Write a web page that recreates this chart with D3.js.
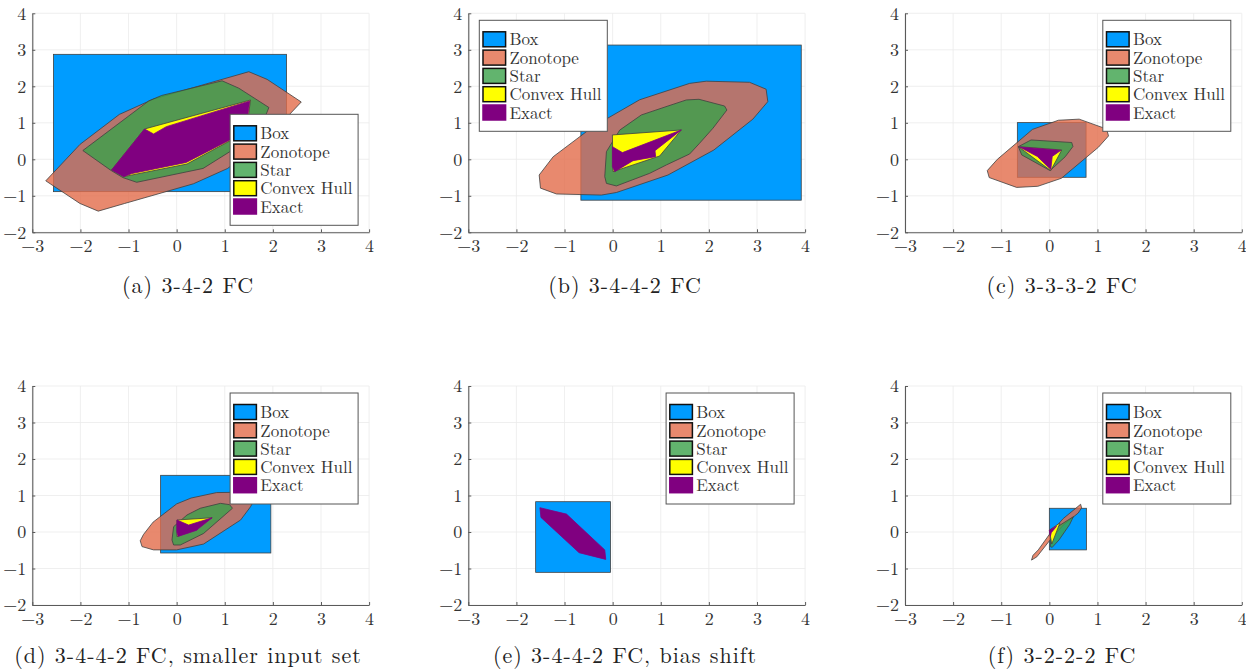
<!DOCTYPE html>
<html>
<head>
<meta charset="utf-8">
<script src="https://cdn.jsdelivr.net/npm/d3@7"></script>
<style>
body{margin:0;background:#fff}
svg{display:block}
</style>
</head>
<body>
<svg id="fig" width="1246" height="670"></svg>
<script>
// captions + legend entries
var captions = ["(a) 3-4-2 FC", "(b) 3-4-4-2 FC", "(c) 3-3-3-2 FC",
  "(d) 3-4-4-2 FC, smaller input set", "(e) 3-4-4-2 FC, bias shift", "(f) 3-2-2-2 FC"];
var setNames = ["Box", "Zonotope", "Star", "Convex Hull", "Exact"];
var xTicks = [-3, -2, -1, 0, 1, 2, 3, 4];
var yTicks = [-2, -1, 0, 1, 2, 3, 4];

// reachable sets, one entry per panel (a..f)
// box: [xmin, xmax, ymin, ymax]
var boxes = [
  [-2.56, 2.285, -0.886, 2.876],
  [-0.66, 3.92, -1.12, 3.13],
  [-0.665, 0.763, -0.493, 1.005],
  [-0.333, 1.958, -0.575, 1.553],
  [-1.60, -0.046, -1.105, 0.83],
  [0.0, 0.77, -0.49, 0.65]
];
var zonotopes = [
  [[-2.72,-0.59],[-2.01,-1.21],[-1.63,-1.42],[-1.08,-1.21],[0.35,-0.67],[1.06,-0.25],[1.875,0.57],
   [2.59,1.57],[1.88,2.19],[1.5,2.40],[0.944,2.19],[-0.48,1.65],[-1.19,1.23],[-2.007,0.41]],
  [[-1.527,-0.43],[-1.50,-0.79],[-1.167,-0.95],[-0.233,-0.98],[0.078,-0.91],[1.15,-0.43],[2.104,0.255],
   [2.914,1.10],[3.225,1.58],[3.19,1.92],[2.845,2.11],[1.946,2.14],[1.6,2.08],[0.56,1.63],[-0.406,0.895],[-1.236,0.07]],
  [[-1.29,-0.31],[-1.25,-0.50],[-0.68,-0.77],[-0.24,-0.74],[0.25,-0.52],[1.02,0.33],[1.23,0.64],
   [1.19,0.83],[0.62,1.10],[0.19,1.07],[-0.35,0.82],[-1.08,0.0]],
  [[-0.757,-0.24],[-0.72,-0.40],[-0.48,-0.49],[0.0,-0.49],[0.56,-0.33],[1.33,0.33],[1.535,0.69],
   [1.60,0.85],[1.56,1.0],[1.32,1.09],[0.83,1.08],[0.30,0.93],[0.0,0.77],[-0.49,0.27],[-0.69,-0.07]],
  [],
  [[-0.37,-0.77],[-0.34,-0.64],[-0.23,-0.49],[0.015,-0.04],[0.29,0.37],[0.55,0.65],[0.65,0.76],
   [0.67,0.66],[0.60,0.52],[0.29,0.19],[0.015,-0.22],[-0.26,-0.68]]
];
var stars = [
  [[-1.95,0.24],[-0.58,1.60],[-0.31,1.75],[0.945,2.15],[1.29,1.95],[1.917,1.42],[1.7,0.7],[0.55,-0.25],
   [-0.83,-0.63],[-1.12,-0.50],[-1.37,-0.30]],
  [[-0.129,0.21],[0.147,0.80],[0.597,1.215],[1.15,1.46],[1.531,1.626],[1.794,1.644],[2.326,1.46],[2.375,1.35],
   [2.084,0.85],[1.807,0.44],[1.60,0.146],[1.116,-0.155],[0.77,-0.384],[0.078,-0.73],[-0.129,-0.66],[-0.164,-0.475]],
  [[-0.644,0.347],[-0.574,0.12],[0.015,-0.31],[0.33,0.07],[0.49,0.35],[0.465,0.46],[-0.38,0.53]],
  [[-0.063,0.146],[-0.097,-0.22],[-0.063,-0.356],[0.076,-0.356],[0.56,-0.04],[1.16,0.65],[1.10,0.75],
   [0.91,0.785],[0.49,0.65],[0.215,0.466]],
  [],
  [[0.02,-0.40],[0.03,-0.1],[0.20,0.17],[0.50,0.42],[0.42,0.20],[0.20,-0.22],[0.06,-0.42]]
];
var hulls = [
  [[-1.35,-0.29],[-0.667,0.83],[1.535,1.625],[1.45,0.75],[0.215,-0.13],[-1.10,-0.475]],
  [[-0.005,0.667],[1.427,0.804],[0.977,0.09],[0.009,-0.338]],
  [[-0.643,0.346],[0.258,0.256],[0.029,-0.31]],
  [[0.007,0.329],[0.737,0.39],[0.007,-0.128]],
  [],
  [[0.0,0.05],[0.22,0.25],[0.05,-0.33]]
];
var exacts = [
  [[-1.35,-0.29],[-0.667,0.83],[-0.479,0.694],[-0.215,0.894],[1.52,1.6],[1.43,0.75],[0.2,-0.085],
   [-0.93,-0.39],[-1.10,-0.475]],
  [[-0.005,0.347],[0.203,0.183],[1.427,0.804],[0.88,0.237],[0.894,0.073],[0.424,-0.037],[0.044,-0.338],[-0.005,-0.2]],
  [[-0.62,0.335],[0.24,0.245],[0.06,0.08],[0.03,-0.28],[-0.25,0.08]],
  [[0.007,0.329],[0.25,0.19],[0.737,0.39],[0.46,0.10],[0.42,0.05],[0.03,-0.12],[0.005,0.0]],
  [[-1.512,0.666],[-0.959,0.49],[-0.164,-0.49],[-0.143,-0.75],[-0.697,-0.567],[-1.49,0.40]],
  [[0.0,0.05],[0.15,0.16],[0.04,-0.02],[0.02,-0.12]]
];
var legendCorner = ["se", "nw", "ne", "ne", "ne", "ne"];

// styling
var fills = ["#009cff", "#e26b4a", "#3ba14a", "#ffff00", "#800080"];
var alphas = [1, 0.8, 0.8, 1, 1];
var edges = ["#404040", "#404040", "#404040", "#404040", "#800080"];
var serif = '"Latin Modern Roman", "Liberation Serif", serif';

var colLeft = [32.3, 468.3, 905], plotW = 336.8;
var rowTop = [13.3, 386], plotH = 219;
var capX = [188, 625, 1062], capY = [292.6, 662.7];

var svg = d3.select("#fig");
var fmt = d3.format("d");
var line = d3.line().curve(d3.curveLinearClosed);

captions.forEach(function(cap, i) {
  var col = i % 3, row = Math.floor(i / 3);
  var x = d3.scaleLinear().domain([-3, 4]).range([0, plotW]);
  var y = d3.scaleLinear().domain([-2, 4]).range([plotH, 0]);
  line.x(function(d) { return x(d[0]); }).y(function(d) { return y(d[1]); });

  var g = svg.append("g").attr("transform", "translate(" + colLeft[col] + "," + rowTop[row] + ")");

  // grid
  g.selectAll(".gx").data(xTicks).enter().append("line")
    .attr("x1", d => x(d)).attr("x2", d => x(d)).attr("y1", 0).attr("y2", plotH)
    .attr("stroke", "#ebebeb").attr("stroke-width", 0.8);
  g.selectAll(".gy").data(yTicks).enter().append("line")
    .attr("y1", d => y(d)).attr("y2", d => y(d)).attr("x1", 0).attr("x2", plotW)
    .attr("stroke", "#ebebeb").attr("stroke-width", 0.8);

  // sets
  var b = boxes[i];
  g.append("rect")
    .attr("x", x(b[0])).attr("y", y(b[3]))
    .attr("width", x(b[1]) - x(b[0])).attr("height", y(b[2]) - y(b[3]))
    .attr("fill", fills[0]).attr("fill-opacity", alphas[0])
    .attr("stroke", edges[0]).attr("stroke-width", 0.8);

  [zonotopes[i], stars[i], hulls[i], exacts[i]].forEach(function(poly, k) {
    if (!poly.length) return;
    g.append("path").attr("d", line(poly))
      .attr("fill", fills[k + 1]).attr("fill-opacity", alphas[k + 1])
      .attr("stroke", edges[k + 1]).attr("stroke-width", 0.8)
      .attr("stroke-linejoin", "round");
  });

  // axes
  var ax = g.append("g").attr("transform", "translate(0," + plotH + ")")
    .call(d3.axisBottom(x).tickValues(xTicks).tickFormat(fmt)
      .tickSizeInner(-3).tickSizeOuter(0).tickPadding(7));
  var ay = g.append("g")
    .call(d3.axisLeft(y).tickValues(yTicks).tickFormat(fmt)
      .tickSizeInner(-3).tickSizeOuter(0).tickPadding(6));
  [ax, ay].forEach(function(a) {
    a.attr("font-family", serif).attr("font-size", 18);
    a.select(".domain").attr("stroke", "#5a5a5a").attr("stroke-width", 1.1);
    a.selectAll(".tick line").attr("stroke", "#5a5a5a");
    a.selectAll("text").attr("fill", "#333");
  });

  // legend
  var lw = 128, lh = 111, lx, ly;
  if (legendCorner[i] == "nw") { lx = 11; ly = 7; }
  else if (legendCorner[i] == "se") { lx = plotW - 11 - lw; ly = plotH - 7 - lh; }
  else { lx = plotW - 11 - lw; ly = 7; }
  var lg = g.append("g").attr("transform", "translate(" + lx + "," + ly + ")");
  lg.append("rect").attr("width", lw).attr("height", lh)
    .attr("fill", "#fff").attr("stroke", "#555").attr("stroke-width", 1);
  setNames.forEach(function(name, k) {
    var cy = 19 + k * 18.3;
    lg.append("rect").attr("x", 3.7).attr("y", cy - 7.5).attr("width", 22.6).attr("height", 15)
      .attr("fill", fills[k]).attr("fill-opacity", alphas[k])
      .attr("stroke", k == 4 ? edges[4] : "#111").attr("stroke-width", 1.5);
    lg.append("text").attr("x", 30.2).attr("y", cy + 6.2)
      .attr("font-family", serif).attr("font-size", 17).attr("fill", "#333")
      .text(name);
  });

  svg.append("text").attr("x", capX[col]).attr("y", capY[row])
    .attr("text-anchor", "middle")
    .attr("font-family", serif).attr("font-size", 22)
    .attr("letter-spacing", 1)
    .attr("fill", "#222").text(cap);
});
</script>
</body>
</html>
